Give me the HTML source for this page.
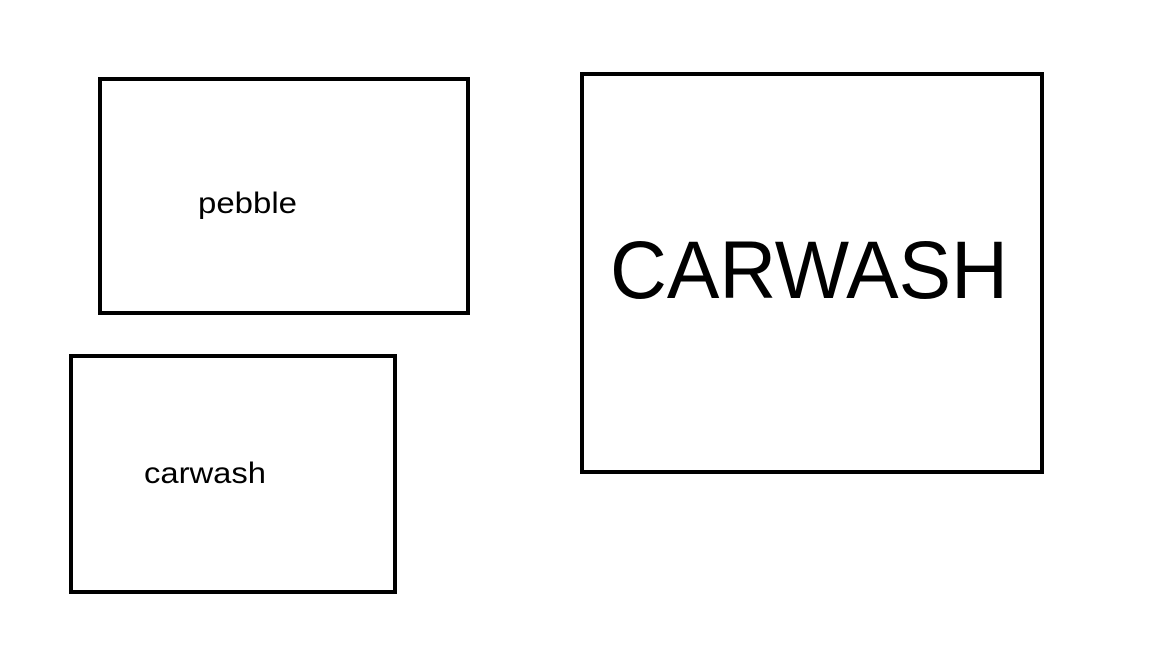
<!DOCTYPE html>
<html><head><style>html,body{margin:0;padding:0;background:#fff;}svg{display:block}</style></head>
<body>
<svg width="1152" height="648" viewBox="0 0 1152 648" xmlns="http://www.w3.org/2000/svg">
<rect x="100" y="79" width="368" height="234" fill="none" stroke="#000" stroke-width="4"/>
<rect x="71" y="356" width="324" height="236" fill="none" stroke="#000" stroke-width="4"/>
<rect x="582" y="74" width="460" height="398" fill="none" stroke="#000" stroke-width="4"/>
<text x="198" y="213" font-family="Liberation Sans, sans-serif" font-size="30" textLength="99" lengthAdjust="spacingAndGlyphs">pebble</text>
<text x="144" y="483" font-family="Liberation Sans, sans-serif" font-size="30" textLength="122" lengthAdjust="spacingAndGlyphs">carwash</text>
<text x="610" y="298" font-family="Liberation Sans, sans-serif" font-size="82" textLength="398" lengthAdjust="spacingAndGlyphs">CARWASH</text>
</svg>
</body></html>
